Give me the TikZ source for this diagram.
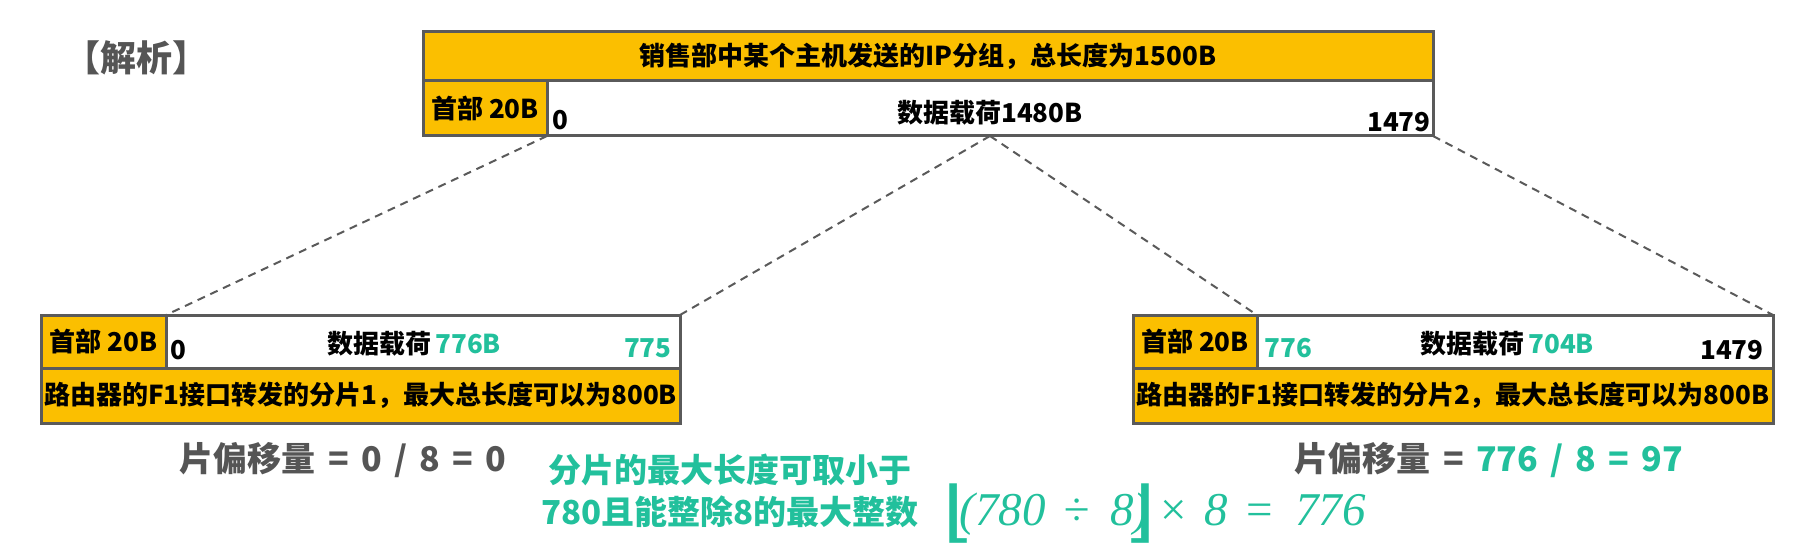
\documentclass[tikz,border=0pt]{standalone}
\usepackage{fontspec}
\setmainfont{Noto Sans CJK SC}
\newfontfamily\serif{Liberation Serif}
\newfontfamily\dvs{DejaVu Sans}
\definecolor{ye}{HTML}{FBBF00}
\definecolor{bd}{HTML}{5A5A5A}
\definecolor{gr}{HTML}{22C09C}
\definecolor{tg}{HTML}{555555}
\newcommand{\gapsp}{\hspace{0.36em}}
\newcommand{\at}[2]{\rlap{\hspace{#1}#2}}
\begin{document}
\begin{tikzpicture}[x=0.5pt,y=-0.5pt,
  cell/.style n args={2}{draw=bd,line width=1.5pt,inner sep=0pt,outer sep=0pt,anchor=north west,minimum width=#1,minimum height=#2},
  lbl/.style={inner sep=0pt,font=\fontsize{13}{15}\selectfont\bfseries},
  big/.style={inner sep=0pt,font=\fontsize{17}{20}\selectfont\bfseries,text=tg},
  dashline/.style={draw=bd,line width=1pt,dash pattern=on 4pt off 3pt}]
\useasboundingbox (0,0) rectangle (1817,551);
% title
\node[inner sep=0pt,font=\fontsize{18}{20}\selectfont\bfseries,text=tg] (title) at (136,58) {【解析】};
% top packet
\node[cell={505pt}{24.5pt},fill=ye] (th) at (423,32) {};
\node[cell={62pt}{27.5pt},fill=ye] (t1) at (423,81) {};
\node[cell={443pt}{27.5pt},fill=white] (t2) at (547,81) {};
\node[lbl] (tht) at (th.center) {销售部中某个主机发送的IP分组，总长度为1500B};
\node[lbl] (t1t) at (t1.center) {首部 20B};
\node[lbl] (t2t) at (990,113) {数据载荷1480B};
\node[lbl,anchor=west] (t2a) at (552,120) {0};
\node[lbl,anchor=east] (t2b) at (1431,122) {1479};
% left fragment
\node[cell={62.5pt}{26.5pt},fill=ye] (l1) at (41,315) {};
\node[cell={257pt}{26.5pt},fill=white] (l2) at (166,315) {};
\node[cell={319.5pt}{27.5pt},fill=ye] (l3) at (41,368) {};
\node[lbl] (l1t) at (l1.center) {首部 20B};
\node[lbl] (l2t) at (414,344) {数据载荷\,{\color{gr}776B}};
\node[lbl,anchor=west] (l2a) at (170,350) {0};
\node[lbl,anchor=east,text=gr] (l2b) at (672,348) {775};
\node[lbl] (l3t) at (l3.center) {路由器的F1接口转发的分片1，最大总长度可以为800B};
% right fragment
\node[cell={62pt}{26.5pt},fill=ye] (r1) at (1133,315) {};
\node[cell={258pt}{26.5pt},fill=white] (r2) at (1257,315) {};
\node[cell={320pt}{27.5pt},fill=ye] (r3) at (1133,368) {};
\node[lbl] (r1t) at (r1.center) {首部 20B};
\node[lbl] (r2t) at (1507,344) {数据载荷\,{\color{gr}704B}};
\node[lbl,anchor=west,text=gr] (r2a) at (1264,348) {776};
\node[lbl,anchor=east] (r2b) at (1764,350) {1479};
\node[lbl] (r3t) at (r3.center) {路由器的F1接口转发的分片2，最大总长度可以为800B};
% dashed connectors
\draw[dashline] (t1.south east) -- (l1.north east);
\draw[dashline] (t2.south) -- (l2.north east);
\draw[dashline] (t2.south) -- (r1.north east);
\draw[dashline] (t2.south east) -- (r2.north east);
% offsets
\node[big] (off1) at (343,460) {片偏移量\gapsp=\gapsp0\gapsp/\gapsp8\gapsp=\gapsp0};
\node[big] (off2) at (1489,460) {片偏移量\gapsp=\gapsp{\color{gr}776\gapsp/\gapsp8\gapsp=\gapsp97}};
% green note
\node[inner sep=0pt,align=center,text=gr,font=\fontsize{16.5}{21}\selectfont\bfseries] (note) at (730,491) {分片的最大长度可取小于\\780且能整除8的最大整数};
\node[inner sep=0pt,anchor=base west,text=gr,font=\fontsize{23.5}{26}\selectfont] (fm) at (948,525)
  {\at{-3.7pt}{\raisebox{-4.66pt}{\scalebox{1.8}[1.42]{\dvs ⌊}}}%
   \at{5pt}{\serif\itshape (780}%
   \at{57pt}{\serif\itshape ÷}%
   \at{80.5pt}{\serif\itshape 8)}%
   \at{87pt}{\raisebox{-4.66pt}{\scalebox{1.8}[1.42]{\dvs ⌋}}}%
   \at{104pt}{\serif\itshape ×}%
   \at{127.5pt}{\serif\itshape 8}%
   \at{147pt}{\serif\itshape =}%
   \at{173pt}{\serif\itshape 776}%
   \hspace{206pt}};
\end{tikzpicture}
\end{document}
